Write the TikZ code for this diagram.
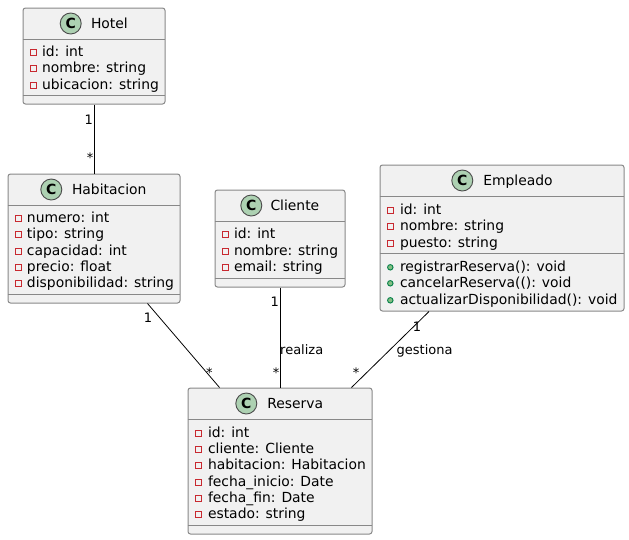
\documentclass[tikz,border=0pt]{standalone}
\usepackage{fontspec}
\setmainfont{DejaVu Sans}
\usetikzlibrary{calc}
\definecolor{boxfill}{HTML}{F1F1F1}
\definecolor{boxline}{HTML}{888888}
\definecolor{spotfill}{HTML}{ADD1B2}
\definecolor{privred}{HTML}{C82930}
\definecolor{pubgreen}{HTML}{84BE84}
\definecolor{publine}{HTML}{038048}
\tikzset{
  x=1pt,y=-1pt,
  classbox/.style={draw=boxline,fill=boxfill,line width=1pt,rounded corners=2.5pt,inner sep=0pt,anchor=north west},
  sepline/.style={draw=boxline,line width=1pt},
  spot/.style={circle,draw=black!70,fill=spotfill,line width=.9pt,minimum size=21pt,inner sep=0pt,font=\fontsize{14}{14}\selectfont\bfseries},
  titletext/.style={anchor=base west,inner sep=0pt,font=\fontsize{13.9}{14}\selectfont},
  member/.style={anchor=base west,inner sep=0pt,font=\fontsize{13.9}{14}\selectfont},
  privmark/.style={draw=privred,line width=.9pt,minimum size=5.5pt,inner sep=0pt,fill=none},
  pubmark/.style={circle,draw=publine,fill=pubgreen,line width=.9pt,minimum size=5.5pt,inner sep=0pt},
  assoc/.style={draw=black,line width=.8pt},
  mult/.style={anchor=base,inner sep=0pt,font=\fontsize{13}{13}\selectfont},
  linklabel/.style={anchor=base west,inner sep=0pt,font=\fontsize{13}{13}\selectfont},
}
\newcommand{\classbox}[8]{% name x y w h title titlex spotx
  \node[classbox,minimum width=#4pt,minimum height=#5pt] (#1) at (#2,#3) {};
  \node[titletext] (#1title) at (#7+.8,#3+20.5) {#6};
  \node[spot] (#1spot) at (#8,#3+16) {C};
}
\newcommand{\privrow}[5]{% name mark-x text-x baseline text
  \node[privmark] (#1m) at (#2,#4-3.7) {};
  \node[member] (#1) at (#3+.8,#4) {#5};
}
\newcommand{\pubrow}[5]{%
  \node[pubmark] (#1m) at (#2,#4-3.7) {};
  \node[member] (#1) at (#3+.8,#4) {#5};
}
\begin{document}
\begin{tikzpicture}
\useasboundingbox (0,0) rectangle (629,539);
% Hotel
\classbox{hotel}{22.5}{7.5}{142}{96}{Hotel}{90}{70.7}
\draw[sepline] (22.5,39.5) -- (164.5,39.5) (22.5,95.5) -- (164.5,95.5);
\privrow{ha}{33.3}{41}{56}{id: int}
\privrow{hb}{33.3}{41}{72}{nombre: string}
\privrow{hc}{33.3}{41}{89}{ubicacion: string}
% Habitacion
\classbox{hab}{7.5}{173.5}{172}{129}{Habitacion}{71}{51.3}
\draw[sepline] (7.5,205.5) -- (179.5,205.5) (7.5,294.5) -- (179.5,294.5);
\privrow{ia}{18.3}{26}{222}{numero: int}
\privrow{ib}{18.3}{26}{238}{tipo: string}
\privrow{ic}{18.3}{26}{255}{capacidad: int}
\privrow{id}{18.3}{26}{271}{precio: float}
\privrow{ie}{18.3}{26}{287}{disponibilidad: string}
% Cliente
\classbox{cli}{214.5}{189.5}{130}{97}{Cliente}{269.5}{251.3}
\draw[sepline] (214.5,221.5) -- (344.5,221.5) (214.5,278.5) -- (344.5,278.5);
\privrow{ca}{225.3}{233}{238}{id: int}
\privrow{cb}{225.3}{233}{255}{nombre: string}
\privrow{cc}{225.3}{233}{271}{email: string}
% Empleado
\classbox{emp}{379.5}{164.5}{244}{146}{Empleado}{482.3}{462.3}
\draw[sepline] (379.5,196.5) -- (623.5,196.5) (379.5,253.5) -- (623.5,253.5);
\privrow{ea}{390.3}{399}{214}{id: int}
\privrow{eb}{390.3}{399}{230}{nombre: string}
\privrow{ec}{390.3}{399}{247}{puesto: string}
\pubrow{ed}{390.3}{399}{271}{registrarReserva(): void}
\pubrow{ee}{390.3}{399}{287}{cancelarReserva((): void}
\pubrow{ef}{390.3}{399}{304}{actualizarDisponibilidad(): void}
% Reserva
\classbox{res}{187.5}{387.5}{184}{146}{Reserva}{266.3}{246.3}
\draw[sepline] (187.5,419.5) -- (371.5,419.5) (187.5,525.5) -- (371.5,525.5);
\privrow{ra}{198.3}{207}{437}{id: int}
\privrow{rb}{198.3}{207}{453}{cliente: Cliente}
\privrow{rc}{198.3}{207}{469}{habitacion: Habitacion}
\privrow{rd}{198.3}{207}{486}{fecha\_inicio: Date}
\privrow{re}{198.3}{207}{502}{fecha\_fin: Date}
\privrow{rf}{198.3}{207}{518}{estado: string}
% Connectors
\draw[assoc] (hotel.south) -- (hotel.south |- hab.north);
\draw[assoc] ([xshift=53.5pt]hab.south) -- ([xshift=-60.5pt]res.north);
\draw[assoc] (cli.south) -- (res.north);
\draw[assoc] ([xshift=-73pt]emp.south) -- ([xshift=71.5pt]res.north);
% Labels
\node[mult] (m1) at (88.8,124) {1};
\node[mult] (m2) at (90,162.4) {*};
\node[mult] (m3) at (148,322) {1};
\node[mult] (m4) at (209.3,377.4) {*};
\node[mult] (m5) at (274.7,306) {1};
\node[mult] (m6) at (276,377.4) {*};
\node[mult] (m7) at (417,331) {1};
\node[mult] (m8) at (356,377.4) {*};
\node[linklabel] (l1) at (280,354) {realiza};
\node[linklabel] (l2) at (396.5,354) {gestiona};
\end{tikzpicture}
\end{document}
